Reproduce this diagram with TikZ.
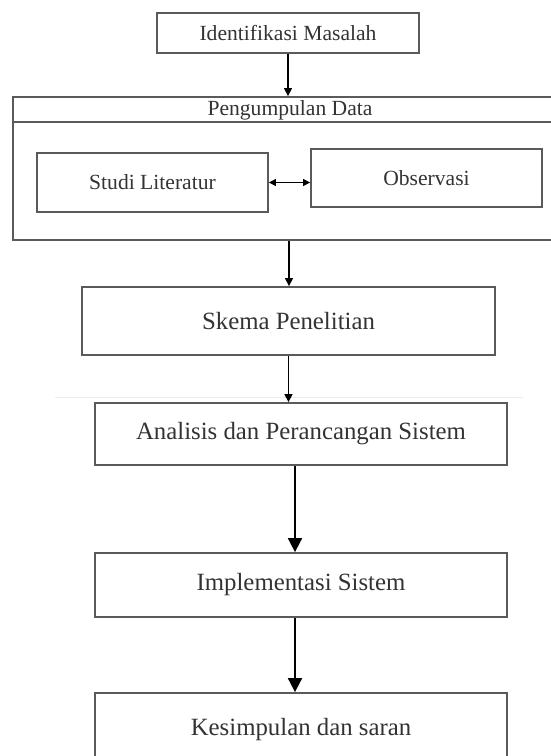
\documentclass[tikz,border=0pt]{standalone}
\usepackage{fontspec}
\setmainfont{Liberation Serif}
\usepackage{tikz}
\usetikzlibrary{arrows.meta}
\definecolor{bline}{HTML}{5A5A5A}
\definecolor{btext}{HTML}{333333}
\definecolor{bfaint}{HTML}{EDEDED}

\begin{document}
\begin{tikzpicture}[x=0.5pt,y=-0.5pt,
  stage/.style={draw=bline,line width=0.9pt,inner sep=0pt,align=center,text=btext,
                font=\fontsize{10.8}{13}\selectfont},
  bigstage/.style={stage,font=\fontsize{12.4}{15}\selectfont},
  arr/.style={-{Triangle[length=4pt,width=4pt]},draw=black,line width=0.6pt},
  bigarr/.style={-{Triangle[length=7pt,width=7pt]},draw=black,line width=0.9pt},
  dblarr/.style={{Triangle[length=3.5pt,width=3.5pt]}-{Triangle[length=3.5pt,width=3.5pt]},
                 draw=black,line width=0.6pt}]
  \useasboundingbox (0,0) rectangle (551,756);
  \clip (0,0) rectangle (551,756);
  \node[stage,minimum width=131pt,minimum height=20pt] (ident) at (288,33) {Identifikasi Masalah};
  \node[stage,minimum width=276pt,minimum height=71.5pt] (data) at (289,168.5) {};
  \draw[draw=bline,line width=0.9pt] ([yshift=-13pt]data.north west) -- ([yshift=-13pt]data.north east);
  \node[text=btext,font=\fontsize{10.8}{13}\selectfont] (datatitle) at (290,110) {Pengumpulan Data};
  \node[stage,minimum width=115.5pt,minimum height=29.5pt] (studi) at (152.5,182.5) {Studi Literatur};
  \node[stage,minimum width=115.5pt,minimum height=29pt] (obs) at (426.5,178) {Observasi};
  \node[bigstage,minimum width=206.5pt,minimum height=34pt] (skema) at (288.5,321) {Skema Penelitian};
  \draw[bfaint,line width=0.5pt] (55,397) -- (523,397);
  \node[bigstage,minimum width=206pt,minimum height=31pt] (analisis) at (301,434) {Analisis dan Perancangan Sistem};
  \node[bigstage,minimum width=206pt,minimum height=32pt] (impl) at (301,585) {Implementasi Sistem};
  \node[bigstage,minimum width=206pt,minimum height=40pt,text depth=6pt] (simpul) at (301,733) {Kesimpulan dan saran};
  \draw[dblarr] (studi.east) -- (studi.east -| obs.west);
  \draw[arr] (ident.south) -- (ident.south |- data.north);
  \draw[arr] (data.south) -- (data.south |- skema.north);
  \draw[arr] (skema.south) -- (skema.south |- analisis.north);
  \draw[bigarr] ([xshift=-3pt]analisis.south) -- ([xshift=-3pt]impl.north);
  \draw[bigarr] ([xshift=-3pt]impl.south) -- ([xshift=-3pt]simpul.north);
\end{tikzpicture}
\end{document}
